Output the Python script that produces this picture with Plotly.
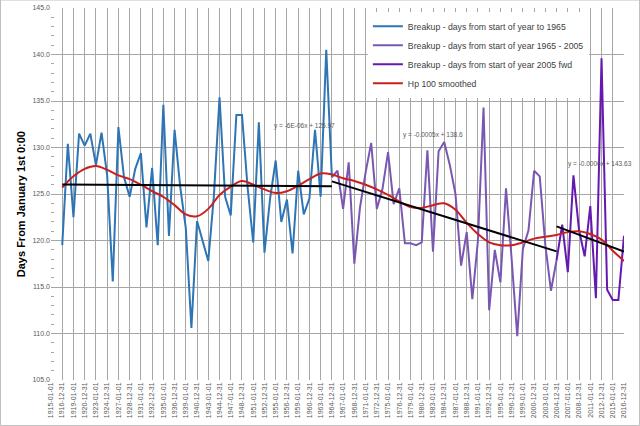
import numpy as np
import plotly.graph_objects as go

# breakup day of year, one value per season (plotted at year end)
years = list(range(1916, 2017))
breakup_days = [
    119.5, 130.4, 122.5, 131.5, 130.2, 131.5, 128.1, 131.6, 127.0, 115.6,
    132.2, 126.8, 124.7, 127.7, 129.4, 121.4, 127.8, 119.5, 134.6, 120.5,
    131.9, 125.8, 121.3, 110.6, 122.1, 119.9, 117.8, 124.8, 135.4, 124.7,
    122.7, 133.5, 133.5, 125.7, 119.8, 132.7, 118.7, 124.5, 128.6, 122.0,
    124.4, 118.6, 127.5, 122.8, 124.5, 131.9, 124.7, 140.5, 126.8, 127.5,
    123.4, 128.4, 117.5, 123.5, 127.3, 130.5, 123.4, 125.5, 129.5, 123.9,
    125.6, 119.7, 119.7, 119.5, 119.8, 129.7, 118.8, 129.6, 130.6, 128.1,
    125.0, 117.3, 120.9, 113.7, 120.0, 134.3, 112.5, 119.0, 115.5, 125.6,
    118.0, 109.7, 119.1, 121.1, 127.5, 126.9, 119.5, 114.6, 117.9, 121.7,
    116.6, 127.0, 121.1, 118.3, 123.7, 113.8, 139.6, 114.7, 113.6, 113.6,
    120.5,
]
SPLIT_1965 = 1964   # last blue / first purple point
SPLIT_2005 = 2004   # last purple / first dark purple point

# HP(100) smoothed curve, read every second year
hp_years = list(range(1916, 2017, 2))
hp_values = [
    125.7, 126.9, 127.7, 128.0, 127.6, 127.0, 126.6, 126.0, 125.3, 124.7,
    123.8, 122.8, 122.6, 123.4, 124.9, 125.8, 126.4, 126.0, 125.5, 125.1,
    125.3, 125.9, 126.6, 127.2, 127.1, 126.7, 126.4, 126.0, 125.5, 124.9,
    124.2, 123.6, 123.5, 123.8, 124.0, 123.3, 121.9, 120.7, 119.8, 119.5,
    119.5, 119.8, 120.2, 120.4, 120.6, 120.9, 121.0, 120.7, 120.1, 118.9,
    117.8,
]

tick_labels = [
    '1915-01-01', '1916-12-31', '1919-01-01', '1920-12-31', '1923-01-01', '1924-12-31',
    '1927-01-01', '1928-12-31', '1931-01-01', '1932-12-31', '1935-01-01', '1936-12-31',
    '1939-01-01', '1940-12-31', '1943-01-01', '1944-12-31', '1947-01-01', '1948-12-31',
    '1951-01-01', '1952-12-31', '1955-01-01', '1956-12-31', '1959-01-01', '1960-12-31',
    '1963-01-01', '1964-12-31', '1967-01-01', '1968-12-31', '1971-01-01', '1972-12-31',
    '1975-01-01', '1976-12-31', '1979-01-01', '1980-12-31', '1983-01-01', '1984-12-31',
    '1987-01-01', '1988-12-31', '1991-01-01', '1992-12-31', '1995-01-01', '1996-12-31',
    '1999-01-01', '2000-12-31', '2003-01-01', '2004-12-31', '2007-01-01', '2008-12-31',
    '2011-01-01', '2012-12-31', '2015-01-01', '2016-12-31',
]

equations = ['y = -6E-06x + 125.97', 'y = -0.0005x + 138.6', 'y = -0.0006x + 143.63']
eq_pos = [('1960-01-20', 132.3), ('1983-01-10', 131.3), ('2012-10-01', 128.2)]

BLUE = '#2E75B6'
PURPLE = '#7A58B2'
DARK_PURPLE = '#6619B0'
RED = '#C8201E'
FONT = 'Liberation Sans, Arial, sans-serif'


def segment(y0, y1):
    ys = [y for y in years if y0 <= y <= y1]
    vals = [breakup_days[years.index(y)] for y in ys]
    return ys, vals


def dates(ys):
    return [f'{y}-12-31' for y in ys]


segments = [
    (segment(1916, SPLIT_1965), 'Breakup - days from start of year to 1965', BLUE),
    (segment(SPLIT_1965, SPLIT_2005), 'Breakup - days from start of year 1965 - 2005', PURPLE),
    (segment(SPLIT_2005, 2016), 'Breakup - days from start of year 2005 fwd', DARK_PURPLE),
]

fig = go.Figure()

for (ys, vals), name, color in segments:
    fig.add_trace(go.Scatter(
        x=dates(ys), y=vals, mode='lines', name=name,
        line={'color': color, 'width': 2},
    ))

fig.add_trace(go.Scatter(
    x=dates(hp_years), y=hp_values, mode='lines', name='Hp 100 smoothed',
    line={'color': RED, 'width': 2, 'shape': 'spline'},
))

# linear trend line per segment, like excel's trendlines
for (ys, vals), _, _ in segments:
    m, c = np.polyfit(np.array(ys, dtype=float), np.array(vals), 1)
    fit = [m * y + c for y in (ys[0], ys[-1])]
    fig.add_trace(go.Scatter(
        x=dates([ys[0], ys[-1]]), y=fit, mode='lines', showlegend=False,
        line={'color': 'black', 'width': 2}, hoverinfo='skip',
    ))

for text, (xd, yv) in zip(equations, eq_pos):
    fig.add_annotation(
        x=xd, y=yv, text=text, showarrow=False,
        font={'size': 6.5, 'color': '#595959', 'family': FONT},
    )

# y axis title placed like excel's (slightly below the plot centre)
fig.add_annotation(
    xref='paper', yref='paper', x=-0.066, y=0.473,
    text='<b>Days From January 1st 0:00</b>', textangle=-90, showarrow=False,
    font={'size': 11, 'color': 'black', 'family': FONT},
)

# outer chart border
fig.add_shape(
    type='rect', xref='paper', yref='paper',
    x0=-0.0881, x1=1.0271, y0=-0.1223, y1=1.0215,
    line={'color': '#BFBFBF', 'width': 1},
)

fig.update_xaxes(
    type='date', automargin=False,
    range=['1915-01-01', '2016-12-31'],
    tickmode='array', tickvals=tick_labels, ticktext=tick_labels,
    tickangle=-90,
    tickfont={'size': 7, 'color': '#595959', 'family': FONT},
    showgrid=True, gridcolor='#A6A6A6', gridwidth=1,
    zeroline=False, showline=False, ticks='',
)

fig.update_yaxes(
    automargin=False,
    range=[105, 145], dtick=5, tick0=105, tickformat='.1f',
    tickfont={'size': 7, 'color': '#595959', 'family': FONT},
    showgrid=True, gridcolor='#A6A6A6', gridwidth=1,
    zeroline=False, showline=False,
    minor={'dtick': 1, 'ticks': 'inside', 'ticklen': 3, 'tickcolor': '#A6A6A6', 'showgrid': False},
)

fig.update_layout(
    width=640, height=426,
    margin={'l': 51, 'r': 16, 't': 8, 'b': 46},
    paper_bgcolor='white', plot_bgcolor='white',
    legend={
        'x': 0.553, 'y': 0.99, 'xanchor': 'left', 'yanchor': 'top',
        'bgcolor': 'white', 'itemwidth': 30,
        'font': {'size': 8.7, 'color': '#404040', 'family': FONT},
        'tracegroupgap': 0,
    },
    showlegend=True,
)

# drop the browser's default body margin so the chart sits at the page corner
fig.write_html('out.html', config={'displayModeBar': False},
               post_script="document.body.style.margin='0px';")
